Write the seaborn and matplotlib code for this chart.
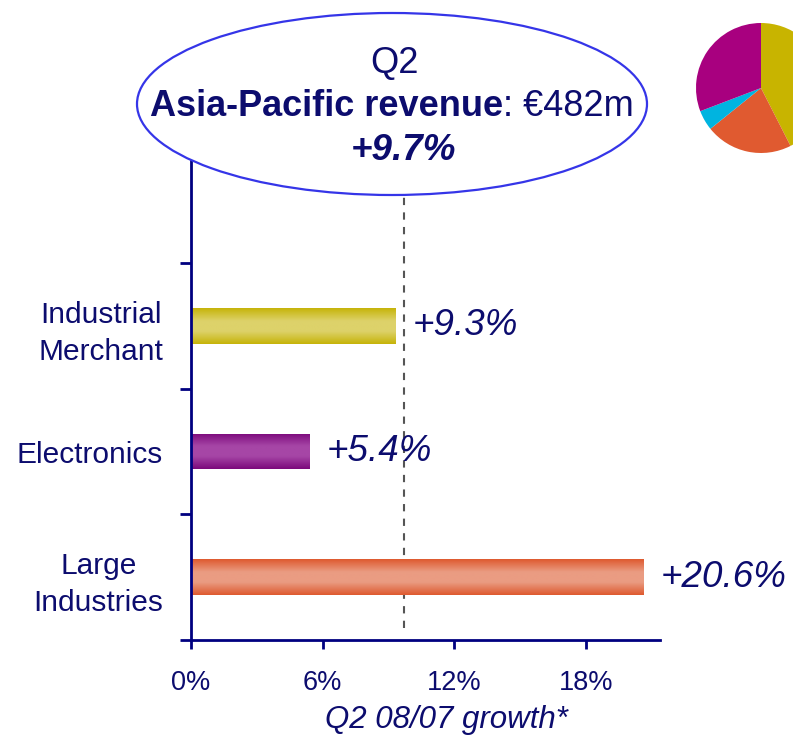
import numpy as np
import pandas as pd
import matplotlib
matplotlib.use("Agg")
import matplotlib.pyplot as plt
from matplotlib.patches import Ellipse
from matplotlib.colors import to_rgb
import seaborn as sns

categories = ["Industrial\nMerchant", "Electronics", "Large\nIndustries"]
growth = [9.3, 5.4, 20.6]
value_labels = ["+9.3%", "+5.4%", "+20.6%"]
edge_colors = ["#C6B40A", "#7C0A7C", "#DE5A30"]
mid_colors = ["#DDD26A", "#A646A6", "#EA9C82"]
total_growth = 9.7
x_ticks = [0, 6, 12, 18]
x_tick_labels = ["0%", "6%", "12%", "18%"]
pie_shares = [42.5, 21.7, 5.0, 30.8]
pie_colors = ["#C8B400", "#E05A30", "#00B4E0", "#A8007F"]

NAVY = "#0C0C6E"
AXC = "#000080"
plt.rcParams['font.family'] = ['Liberation Sans', 'DejaVu Sans']

df = pd.DataFrame({"cat": categories, "growth": growth})

fig = plt.figure(figsize=(7.93, 7.37), dpi=100)
ax = fig.add_axes([191/793, 1-640/737, (660-191)/793, (640-160)/737])
sns.barplot(data=df, x="growth", y="cat", orient="h", ax=ax, width=0.285,
            palette=edge_colors, hue="cat", legend=False, saturation=1)

# gradient overlay on bars
for patch, ec, mc in zip(ax.patches, edge_colors, mid_colors):
    x0, y0 = patch.get_x(), patch.get_y()
    w, h = patch.get_width(), patch.get_height()
    t = np.linspace(0, 1, 64)
    f = 1 - np.abs(2*t - 1)
    f = np.clip(f*1.4, 0, 1)
    c0, c1 = np.array(to_rgb(ec)), np.array(to_rgb(mc))
    img = c0[None, :]*(1-f[:, None]) + c1[None, :]*f[:, None]
    img = img[:, None, :]
    im = ax.imshow(img, extent=[x0, x0+w, y0+h, y0], aspect='auto',
                   zorder=patch.get_zorder()+0.1, interpolation='bilinear')
    im.set_clip_path(patch)

ax.set_xlim(0, (660-191)/21.95)
ax.set_ylim(2.5, -1.32)
ax.axvline(total_growth, ymin=(640-628)/480, ymax=(640-195)/480,
           color="#555555", ls=(0, (3.5, 3.5)), lw=1.5, zorder=0.5)

for i, (g, lab) in enumerate(zip(growth, value_labels)):
    ax.text(g + 0.8, i, lab, ha="left", va="center", fontsize=26.5,
            style="italic", color=NAVY)

for s in ["top", "right"]:
    ax.spines[s].set_visible(False)
for s in ["left", "bottom"]:
    ax.spines[s].set_color(AXC)
    ax.spines[s].set_linewidth(2)

ax.set_xticks(x_ticks)
ax.set_xticklabels(x_tick_labels, fontsize=19.5, color=NAVY)
ax.tick_params(axis="x", length=6.5, width=2, color=AXC, direction="out", pad=15)
ax.set_yticks([0, 1, 2])
ax.set_yticklabels(categories, fontsize=21.5, color=NAVY, multialignment="center",
                   linespacing=1.42)
ax.tick_params(axis="y", length=0, pad=20)
ax.set_yticks([-0.5, 0.5, 1.5, 2.5], minor=True)
ax.tick_params(axis="y", which="minor", length=8, width=2, color=AXC)
ax.set_ylabel("")
ax.set_xlabel("Q2 08/07 growth*", fontsize=22.5, style="italic", color=NAVY)
ax.xaxis.set_label_coords((446-191)/469, -(720-640)/480)
ax.xaxis.label.set_va("center")

# ellipse callout
ell = Ellipse((392/793, 1-104/737), 510/793, 182/737, transform=fig.transFigure,
              facecolor="white", edgecolor="#3535E8", lw=1.6, zorder=5)
fig.patches.append(ell)
FS = 26
fig.text(395/793, 1-63/737, "Q2", ha="center", va="center", fontsize=FS, color=NAVY, zorder=6)
fig.canvas.draw()
r = fig.canvas.get_renderer()
tb = fig.text(0, 0, "Asia-Pacific revenue", fontsize=FS, weight="bold", alpha=0)
tn = fig.text(0, 0, ": €482m", fontsize=FS, alpha=0)
wb = tb.get_window_extent(r).width
wn = tn.get_window_extent(r).width
left_px = 392 - (wb + wn)/2
fig.text(left_px/793, 1-106/737, "Asia-Pacific revenue", ha="left", va="center",
         fontsize=FS, weight="bold", color=NAVY, zorder=6)
fig.text((left_px+wb)/793, 1-106/737, ": €482m", ha="left", va="center",
         fontsize=FS, color=NAVY, zorder=6)
fig.text(403/793, 1-151/737, "+9.7%", ha="center", va="center", fontsize=FS + 0.5,
         weight="bold", style="italic", color=NAVY, zorder=6)

# pie
pax = fig.add_axes([(761-65)/793, 1-153/737, 130/793, 130/737])
pax.pie(pie_shares, colors=pie_colors, startangle=90, counterclock=False,
        wedgeprops=dict(linewidth=0))
pax.set_xlim(-1, 1)
pax.set_ylim(-1, 1)
pax.set_aspect("equal")
pax.axis("off")

fig.savefig("out.png", dpi=100)
